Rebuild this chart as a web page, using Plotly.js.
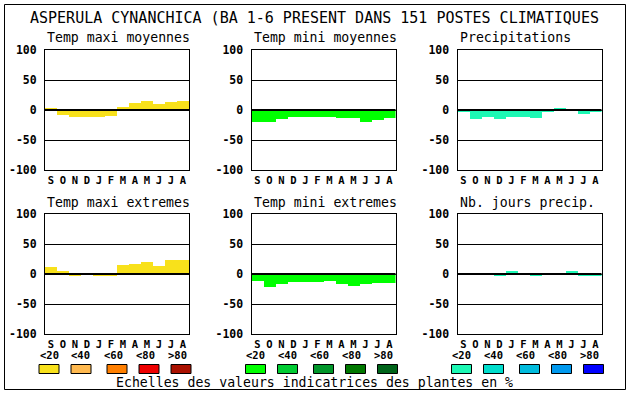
<!DOCTYPE html>
<html><head><meta charset="utf-8">
<script src="https://cdn.plot.ly/plotly-3.0.1.min.js"></script>
<style>html,body{margin:0;padding:0;background:#fff}#chart{width:630px;height:394px}</style>
</head><body><div id="chart"></div>
<script>
// ---- data ----
const months = ['S','O','N','D','J','F','M','A','M','J','J','A'];
const tmaxMoy = [4, -8, -12, -12, -12, -10, 5, 12, 15, 10, 13, 15];
const tminMoy = [-20, -20, -15, -12, -12, -12, -12, -14, -14, -20, -17, -14];
const precip  = [-4, -15, -11, -15, -11, -12, -14, -3, 4, 2, -6, -4];
const tmaxExt = [12, 5, -4, -2, -3, -3, 15, 17, 20, 14, 24, 24];
const tminExt = [-12, -22, -17, -14, -14, -14, -11, -17, -20, -17, -15, -15];
const nbJours = [0, 0, 0, -3, 5, 0, -3, 2, 2, 5, -4, -4];
const yTickVals = [100, 50, 0, -50, -100];
const yTickText = ['100', '50', '0', '-50', '-100'];
const panelTitles = ['Temp maxi moyennes','Temp mini moyennes','Precipitations','Temp maxi extremes','Temp mini extremes','Nb. jours precip.'];
const legendLabels = ['<20','<40','<60','<80','>80'];
const yellowScale = ['#F8E11B','#FFB94F','#FF7F00','#EE0000','#AA1100'];
const greenScale  = ['#00FF00','#00CC33','#00962A','#007800','#00641A'];
const cyanScale   = ['#1CF8B4','#00DDCC','#00BBDD','#0099EE','#0000FF'];
const mainTitle = 'ASPERULA CYNANCHICA (BA 1-6 PRESENT DANS 151 POSTES CLIMATIQUES';
const footer = 'Echelles des valeurs indicatrices des plantes en %';

// ---- layout helpers ----
const W = 630, H = 394;
const X = p => p / W, Y = p => 1 - p / H;
const lefts = [45, 251.5, 457.5], pw = 144;
const tops = [50, 214], ph = 120;
const mono = 'DejaVu Sans Mono, Liberation Mono, monospace';
const series = [tmaxMoy, tminMoy, precip, tmaxExt, tminExt, nbJours];
const barColors = [yellowScale[0], greenScale[0], cyanScale[0], yellowScale[0], greenScale[0], cyanScale[0]];
const idx = months.map((_, i) => i);

const data = [];
const layout = {
  width: W, height: H, margin: {l:0, r:0, t:0, b:0},
  paper_bgcolor: '#fff', plot_bgcolor: '#fff', showlegend: false,
  bargap: 0, shapes: [], annotations: [],
  font: {family: mono, color: '#000'}
};

series.forEach((vals, k) => {
  const col = k % 3, row = Math.floor(k / 3);
  const n = k === 0 ? '' : String(k + 1);
  data.push({type: 'bar', x: idx, y: vals, width: 1, xaxis: 'x' + n, yaxis: 'y' + n,
    marker: {color: barColors[k], line: {width: 0}}, hoverinfo: 'skip'});
  const l = lefts[col], t = tops[row];
  layout['xaxis' + n] = {domain: [X(l), X(l + pw)], anchor: 'y' + n, range: [-0.5, 11.5],
    tickmode: 'array', tickvals: idx, ticktext: months, showgrid: false, zeroline: false,
    showline: true, mirror: true, linecolor: '#000', linewidth: 1, ticks: '', ticklabelstandoff: 0,
    tickfont: {family: mono, size: 10.5, weight: 'bold', color: '#000'}, fixedrange: true};
  layout['yaxis' + n] = {domain: [Y(t + ph), Y(t)], anchor: 'x' + n, range: [-100, 100],
    tickmode: 'array', tickvals: yTickVals, ticktext: yTickText, showgrid: true,
    gridcolor: '#000', gridwidth: 1, zeroline: false, showline: true, mirror: true,
    linecolor: '#000', linewidth: 1, ticks: '', ticklabelstandoff: 5,
    tickfont: {family: mono, size: 11.5, weight: 'bold', color: '#000'}, fixedrange: true};
  layout.shapes.push({type: 'line', xref: 'x' + n + ' domain', yref: 'y' + n, x0: 0, x1: 1, y0: 0, y1: 0,
    line: {color: '#000', width: 2}, layer: 'above'});
  layout.annotations.push({text: panelTitles[k], xref: 'paper', yref: 'paper', x: X(l), y: Y(t - 12),
    xanchor: 'left', yanchor: 'middle', showarrow: false, font: {family: mono, size: 13.2, color: '#000'}});
});

// legends
const scales = [yellowScale, greenScale, cyanScale];
const boxOff = [4, 36, 72, 104, 136], labOff = [4, 36, 68, 100, 132];
scales.forEach((sc, col) => {
  const l = lefts[col];
  sc.forEach((c, i) => {
    layout.shapes.push({type: 'rect', xref: 'paper', yref: 'paper',
      x0: X(l + boxOff[i] - 10), x1: X(l + boxOff[i] + 10), y0: Y(373.5), y1: Y(364.5),
      fillcolor: c, line: {color: '#000', width: 1}});
    layout.annotations.push({text: legendLabels[i], xref: 'paper', yref: 'paper',
      x: X(l + labOff[i]), y: Y(355), xanchor: 'center', yanchor: 'middle', showarrow: false,
      font: {family: mono, size: 10.5, weight: 'bold', color: '#000'}});
  });
});

// frame, title, footer
layout.shapes.push({type: 'rect', xref: 'paper', yref: 'paper', x0: X(4.5), x1: X(625.5), y0: Y(389.5), y1: Y(4.5),
  line: {color: '#000', width: 1}, fillcolor: 'rgba(0,0,0,0)'});
layout.annotations.push({text: mainTitle, xref: 'paper', yref: 'paper', x: X(314), y: Y(18),
  xanchor: 'center', yanchor: 'middle', showarrow: false, font: {family: mono, size: 15, color: '#000'}});
layout.annotations.push({text: footer, xref: 'paper', yref: 'paper', x: X(314), y: Y(382),
  xanchor: 'center', yanchor: 'middle', showarrow: false, font: {family: mono, size: 13.2, color: '#000'}});

Plotly.newPlot('chart', data, layout, {staticPlot: true, displayModeBar: false});
</script></body></html>
